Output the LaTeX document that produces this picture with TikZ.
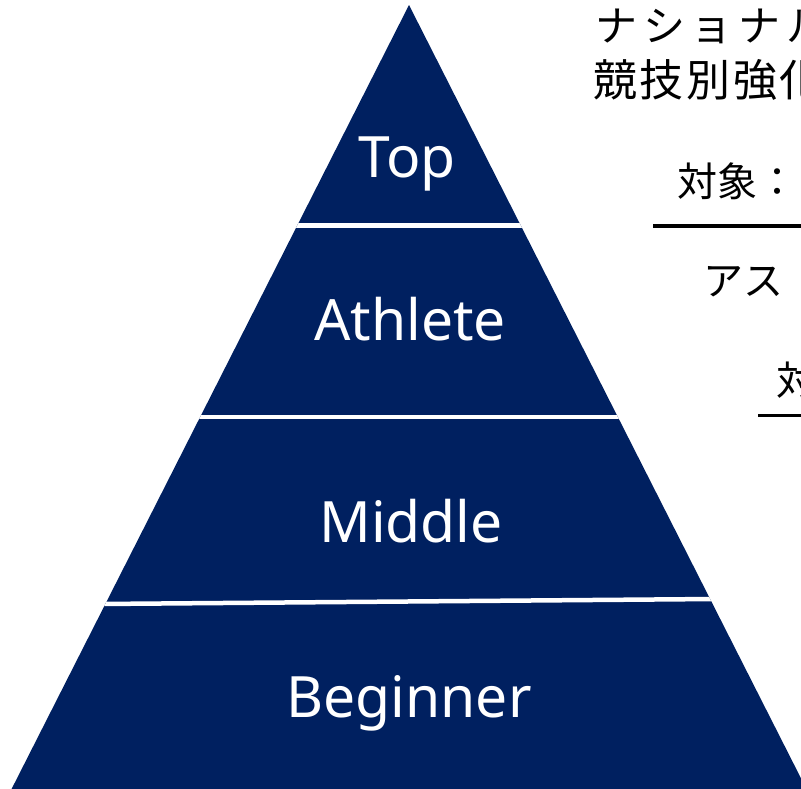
\documentclass[tikz,border=0pt]{standalone}
\usepackage{fontspec}
\newfontfamily\latinfont{Noto Sans}
\newfontfamily\jpfont{Noto Sans CJK JP}
\newfontfamily\jpspaced[LetterSpace=14]{Noto Sans CJK JP}
\newfontfamily\jpwide[LetterSpace=6]{Noto Sans CJK JP}
\definecolor{navy}{HTML}{002060}
\begin{document}
\begin{tikzpicture}[x=1pt,y=-1pt,
  tier/.style={text=white,font=\latinfont\fontsize{57}{60}\selectfont,anchor=base,inner sep=0pt},
  jp/.style={anchor=base west,inner sep=0pt,font=\jpfont\fontsize{40}{44}\selectfont},
  gap/.style={white,line width=4.5pt},
  rule/.style={black,line width=3.5pt}]
\useasboundingbox (0,0) rectangle (801,788);
\clip (0,0) rectangle (801,788);
% pyramid
\fill[navy] (409,5) -- (6,800) -- (812,800) -- cycle;
\begin{scope}
  \clip (409,5) -- (6,800) -- (812,800) -- cycle;
  \draw[gap] (0,225.5) -- (801,225.5);
  \draw[gap] (0,417) -- (801,417);
  \draw[gap] (0,604.8) -- (801,598.3);
\end{scope}
\node[tier] (top) at (407,177) {Top};
\node[tier] (athlete) at (410,340) {Athlete};
\node[tier] (middle) at (411,542) {Middle};
\node[tier] (beginner) at (409,717) {Beginner};
% right-hand text
\node[jp,font=\jpspaced\fontsize{42}{46}\selectfont] (t1) at (595,41) {ナショナル};
\node[jp,font=\jpwide\fontsize{44}{48}\selectfont] (t2) at (593,96) {競技別強化};
\node[jp] (t3) at (677,196) {対象：};
\node[jp] (t4) at (703,295) {アス};
\node[jp] (t5) at (776,395) {対};
\coordinate (r1a) at (653,226);
\coordinate (r1b) at (801,226);
\coordinate (r2a) at (758,415.5);
\coordinate (r2b) at (801,415.5);
\draw[rule] (r1a) -- (r1b);
\draw[rule] (r2a) -- (r2b);
\end{tikzpicture}
\end{document}
